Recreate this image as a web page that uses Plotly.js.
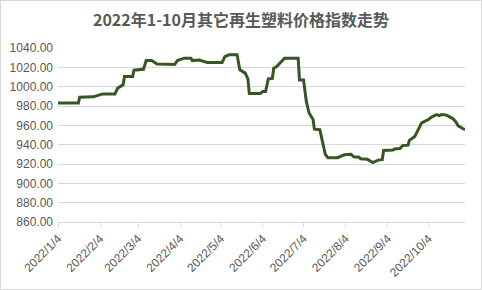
<!DOCTYPE html>
<html>
<head>
<meta charset="utf-8">
<script src="https://cdn.plot.ly/plotly-3.0.1.min.js"></script>
<style>
html,body{margin:0;padding:0;background:#fff;}
#wrap{position:relative;width:482px;height:290px;}
#chart{width:482px;height:290px;}
#frame{position:absolute;left:0;top:0;width:482px;height:290px;box-sizing:border-box;border:1px solid #d9d9d9;pointer-events:none;}
</style>
</head>
<body>
<div id="wrap"><div id="chart"></div><div id="frame"></div></div>
<script>
// Data
const dates = [
 "2022-01-04","2022-01-19","2022-01-20","2022-01-30","2022-02-06","2022-02-15","2022-02-17","2022-02-21","2022-02-22","2022-02-28",
 "2022-03-01","2022-03-08","2022-03-10","2022-03-14","2022-03-18","2022-03-31","2022-04-02","2022-04-07","2022-04-12","2022-04-13",
 "2022-04-18","2022-04-24","2022-05-05","2022-05-07","2022-05-10","2022-05-16","2022-05-18","2022-05-22","2022-05-24","2022-05-25",
 "2022-06-02","2022-06-04","2022-06-06","2022-06-08","2022-06-11","2022-06-12","2022-06-14","2022-06-17","2022-06-20","2022-06-30",
 "2022-07-01","2022-07-04","2022-07-06","2022-07-08","2022-07-11","2022-07-12","2022-07-16","2022-07-20","2022-07-22","2022-07-29",
 "2022-08-03","2022-08-08","2022-08-10","2022-08-14","2022-08-15","2022-08-20","2022-08-23","2022-08-24","2022-08-28","2022-08-31",
 "2022-09-01","2022-09-08","2022-09-09","2022-09-13","2022-09-15","2022-09-19","2022-09-20","2022-09-24","2022-09-26","2022-09-29",
 "2022-10-04","2022-10-07","2022-10-10","2022-10-12","2022-10-13","2022-10-16","2022-10-18","2022-10-22","2022-10-24","2022-10-26",
 "2022-10-29","2022-10-31"
];
const values = [
 983,983,989,989.5,992.5,992.5,998.5,1002,1010.5,1010.5,
 1017,1018,1027,1027,1023.5,1023,1027,1029.5,1029.5,1027,
 1027.5,1025,1025,1031,1033,1033,1017.5,1014,1008,993,
 993,995,995,1008,1008.5,1019,1020.5,1025,1029.5,1029.5,
 1007,1007,985,973,966,956,955.5,930,926.5,926.5,
 929.5,930,927.5,927,925.5,925,923,921.5,924,924.5,
 934,934.5,935.5,936,939,939.5,944.5,948.5,954,962.5,
 966,969,971,970,971,971,970,967,964,959.5,
 957,955.5
];
const tickDates = ["2022-01-04","2022-02-04","2022-03-04","2022-04-04","2022-05-04","2022-06-04","2022-07-04","2022-08-04","2022-09-04","2022-10-04"];
const tickLabels = ["2022/1/4","2022/2/4","2022/3/4","2022/4/4","2022/5/4","2022/6/4","2022/7/4","2022/8/4","2022/9/4","2022/10/4"];
const chartTitle = "2022年1-10月其它再生塑料价格指数走势";

const trace = {
  x: dates, y: values, type: "scatter", mode: "lines",
  line: {color: "#375623", width: 3}, hoverinfo: "skip"
};
const layout = {
  width: 482, height: 290,
  margin: {l: 58, r: 17, t: 48, b: 68},
  paper_bgcolor: "#fff", plot_bgcolor: "#fff",
  showlegend: false,
  title: {text: "<b>" + chartTitle + "</b>", x: 0.5, xanchor: "center", y: 0.93, yanchor: "middle",
          font: {family: "Noto Sans CJK SC, sans-serif", size: 16, color: "#595959"}},
  xaxis: {
    type: "date", range: ["2022-01-04", "2022-10-31"],
    tickmode: "array", tickvals: tickDates, ticktext: tickLabels,
    tickangle: -45, ticks: "outside", ticklen: 4, tickcolor: "#d9d9d9",
    showline: true, linecolor: "#d9d9d9", linewidth: 1,
    showgrid: false, zeroline: false,
    tickfont: {family: "Liberation Sans, sans-serif", size: 12, color: "#595959"}
  },
  yaxis: {
    range: [860, 1040], dtick: 20, tick0: 860, tickformat: ".2f",
    showgrid: true, gridcolor: "#d9d9d9", gridwidth: 1,
    showline: false, zeroline: false, ticks: "", ticklabelstandoff: 4,
    tickfont: {family: "Liberation Sans, sans-serif", size: 12, color: "#595959"}
  }
};
Plotly.newPlot("chart", [trace], layout, {displayModeBar: false, staticPlot: true});
</script>
</body>
</html>
